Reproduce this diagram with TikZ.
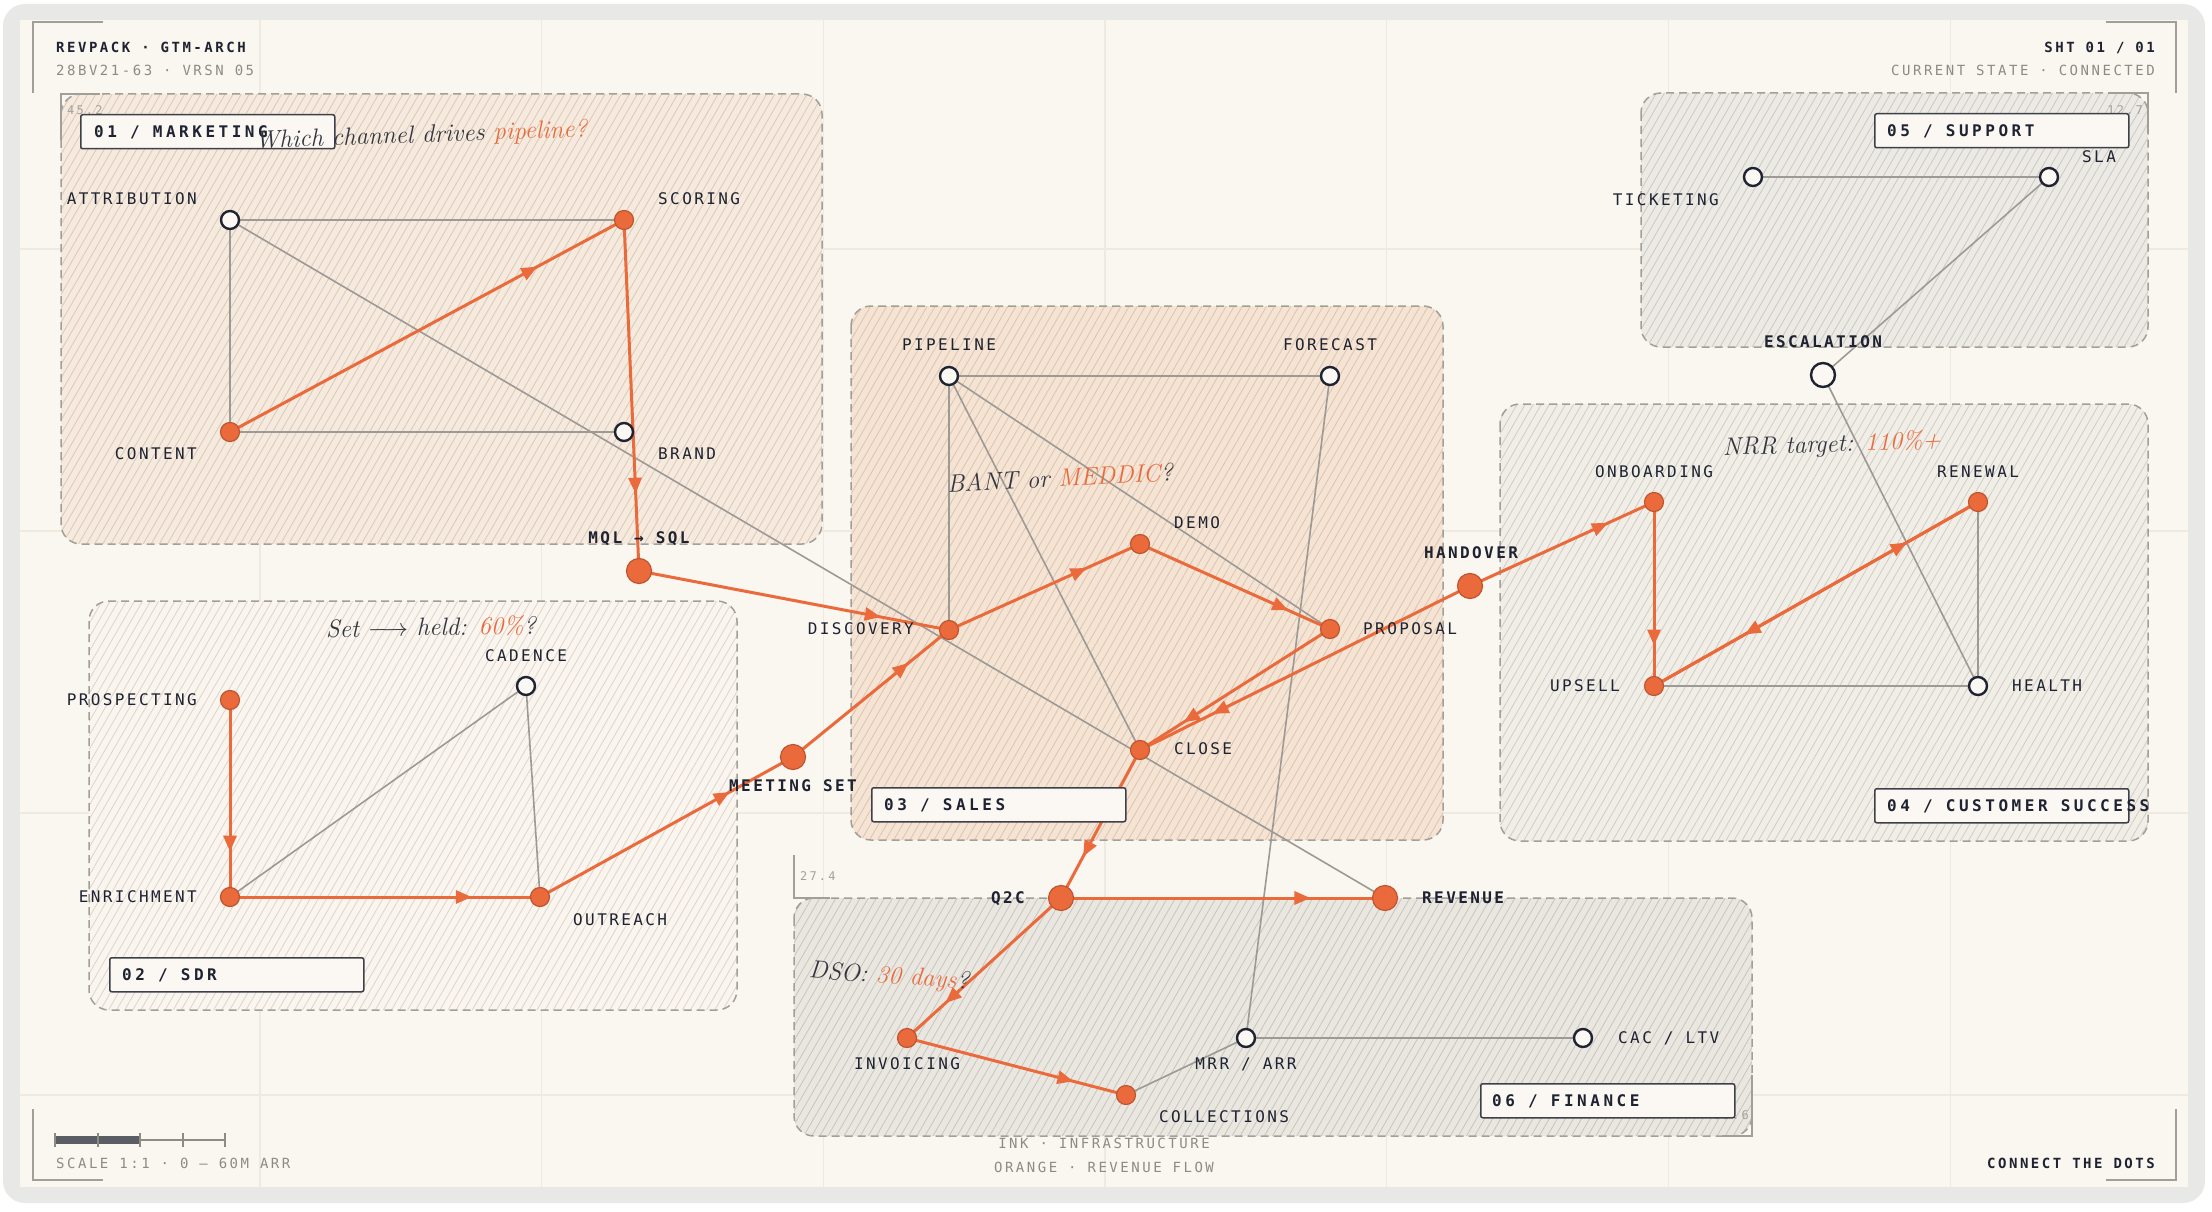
\documentclass[tikz,border=0pt]{standalone}
\usepackage{fontspec}
\usetikzlibrary{patterns.meta,decorations.markings,arrows.meta,positioning}
\newfontfamily\nodefont[LetterSpace=15]{DejaVu Sans Mono}
\newfontfamily\tagfont[LetterSpace=22]{DejaVu Sans Mono}
\newfontfamily\metafont[LetterSpace=18]{DejaVu Sans Mono}
\definecolor{Paper}{HTML}{FAF6F0}
\definecolor{Card}{HTML}{E8E8E7}
\definecolor{Grid}{HTML}{F0E9E0}
\definecolor{Ember}{HTML}{EA6A3C}
\definecolor{EmberDark}{HTML}{BF5530}
\definecolor{Ink}{HTML}{1E2231}
\definecolor{Wire}{HTML}{9D9A96}
\definecolor{TagEdge}{HTML}{3D4049}
\definecolor{TagFill}{HTML}{FBF8F3}
\definecolor{DashGray}{HTML}{A29E98}
\definecolor{Faint}{HTML}{8E8A84}
\definecolor{Pencil}{HTML}{33363F}
\definecolor{ZoneMkt}{HTML}{F5EADD}
\definecolor{HatchMkt}{HTML}{D9C9B8}
\definecolor{ZoneSdr}{HTML}{FAF5EE}
\definecolor{HatchSdr}{HTML}{DDD4CA}
\definecolor{ZoneSales}{HTML}{F5E4D4}
\definecolor{HatchSales}{HTML}{DBC4AF}
\definecolor{ZoneCs}{HTML}{F1EEE7}
\definecolor{HatchCs}{HTML}{D0CCC4}
\definecolor{ZoneSup}{HTML}{ECEAE4}
\definecolor{HatchSup}{HTML}{CBC8C1}
\definecolor{ZoneFin}{HTML}{EAE7E1}
\definecolor{HatchFin}{HTML}{C8C4BD}
\pgfdeclarelayer{backdrop}
\pgfdeclarelayer{wires}
\pgfsetlayers{backdrop,wires,main}
\tikzset{
  dot/.style={circle, inner sep=0pt, minimum size=19pt, fill=Ember, draw=EmberDark, line width=1.2pt},
  hub/.style={dot, minimum size=25pt},
  ring/.style={circle, inner sep=0pt, minimum size=18pt, fill=TagFill, draw=Ink, line width=2.4pt},
  bigring/.style={ring, minimum size=24pt},
  lbl/.style={font=\nodefont\fontsize{16}{16}\selectfont, text=Ink, inner sep=0pt, text height=11.7pt, text depth=0pt},
  keylbl/.style={lbl, font=\nodefont\bfseries\fontsize{16}{16}\selectfont},
  wire/.style={draw=Wire, line width=1.6pt},
  flow/.style={draw=Ember, line width=3pt, postaction={decorate},
    decoration={markings, mark=at position #1 with {\arrow{Triangle[length=16pt,width=13pt]}}}},
  flow/.default=0.78,
  tagbox/.style={draw=TagEdge, fill=TagFill, line width=1.5pt, rounded corners=2pt, minimum width=254pt, minimum height=34pt, inner sep=0pt},
  tagtext/.style={font=\tagfont\bfseries\fontsize{16}{16}\selectfont, text=Ink, inner sep=0pt, text height=11.7pt, text depth=0pt},
  note/.style={font=\rmfamily\itshape\fontsize{25}{25}\selectfont, text=Pencil, inner sep=0pt},
  metatext/.style={font=\metafont\fontsize{14}{14}\selectfont, text=Faint, inner sep=0pt, text height=10pt, text depth=0pt},
  metabold/.style={metatext, font=\metafont\bfseries\fontsize{14}{14}\selectfont, text=Ink},
  cornernum/.style={font=\metafont\fontsize{12}{12}\selectfont, text=Faint!80, inner sep=0pt},
  tickline/.style={draw=DashGray, line width=1.2pt},
  zoneedge/.style={draw=DashGray, line width=1.5pt, dash pattern=on 8pt off 5pt, rounded corners=20pt},
}
\begin{document}
\begin{tikzpicture}[x=1pt,y=-1pt]
  \useasboundingbox (0,0) rectangle (2212,1212);
  \begin{pgfonlayer}{backdrop}
    \fill[white] (0,0) rectangle (2212,1212);
    \fill[Card, rounded corners=22pt] (3,4) rectangle (2205,1203);
    \fill[Paper] (20,20) rectangle (2188,1187);
    % faint grid
    \foreach \gx in {260,541.7,823.4,1105,1386.8,1668.5,1950.2}
      \draw[Grid, line width=1.2pt] (\gx,20) -- (\gx,1187);
    \foreach \gy in {249,531,813,1095}
      \draw[Grid, line width=1.2pt] (20,\gy) -- (2188,\gy);
    % zones
    \foreach \xa/\ya/\xb/\yb/\zc/\hc in {61/94/822/544/ZoneMkt/HatchMkt, 89/601/737/1010/ZoneSdr/HatchSdr,
        851/306/1443/840/ZoneSales/HatchSales, 1500/404/2148/841/ZoneCs/HatchCs,
        1641/93/2148/347/ZoneSup/HatchSup, 794/898/1752/1136/ZoneFin/HatchFin} {
      \fill[fill=\zc, rounded corners=20pt] (\xa,\ya) rectangle (\xb,\yb);
      \fill[pattern={Lines[angle=60,distance=7pt,line width=0.8pt]}, pattern color=\hc, rounded corners=20pt] (\xa,\ya) rectangle (\xb,\yb);
      \draw[zoneedge] (\xa,\ya) rectangle (\xb,\yb);
    }
    % corner marks
    \draw[tickline] (61,140) -- (61,94) -- (100,94);
    \node[cornernum, anchor=west] (num452) at (67,110) {45.2};
    \draw[tickline] (2108,93) -- (2148,93) -- (2148,133);
    \node[cornernum, anchor=east] (num127) at (2143,110) {12.7};
    \draw[tickline] (794,855) -- (794,898) -- (830,898);
    \node[cornernum, anchor=west] (num274) at (800,876) {27.4};
    \draw[tickline] (1752,1075) -- (1752,1136) -- (1722,1136);
    \node[cornernum, anchor=east] (num856) at (1749,1115) {85.6};
  \end{pgfonlayer}

  % frame brackets
  \draw[tickline] (33,93) -- (33,22) -- (103,22);
  \draw[tickline] (2106,22) -- (2176,22) -- (2176,93);
  \draw[tickline] (33,1109) -- (33,1180) -- (103,1180);
  \draw[tickline] (2106,1180) -- (2176,1180) -- (2176,1109);

  % title block
  \node[metabold, anchor=west] (title) at (56,48) {REVPACK · GTM-ARCH};
  \node[metatext, anchor=west] (version) at (56,71) {28BV21-63 · VRSN 05};
  \node[metabold, anchor=east] (sheet) at (2155,48) {SHT 01 / 01};
  \node[metatext, anchor=east] (state) at (2155,71) {CURRENT STATE · CONNECTED};
  \node[metatext, anchor=west] (scale) at (56,1163) {SCALE 1:1 · 0 — 60M ARR};
  \node[metabold, anchor=east] (motto) at (2155,1163) {CONNECT THE DOTS};
  \node[metatext] (legendink) at (1104,1143) {INK · INFRASTRUCTURE};
  \node[metatext] (legendorange) at (1104,1167) {ORANGE · REVENUE FLOW};

  % scale bar
  \draw[Faint, line width=1.2pt] (55,1140) -- (225,1140);
  \fill[TagEdge!85] (55,1136) rectangle (140,1144);
  \foreach \sx in {55,98,140,183,225}
    \draw[Faint, line width=1.2pt] (\sx,1133) -- (\sx,1147);

  % zone tags
  \node[tagbox, anchor=north west] (tagmkt) at (80,114) {};
  \node[tagtext, anchor=west] (tagmkttext) at ([xshift=14pt]tagmkt.west) {01 / MARKETING};
  \node[tagbox, anchor=north west] (tagsdr) at (109,957) {};
  \node[tagtext, anchor=west] (tagsdrtext) at ([xshift=13pt]tagsdr.west) {02 / SDR};
  \node[tagbox, anchor=north west] (tagsales) at (871,787) {};
  \node[tagtext, anchor=west] (tagsalestext) at ([xshift=13pt]tagsales.west) {03 / SALES};
  \node[tagbox, anchor=north west] (tagcs) at (1874,788) {};
  \node[tagtext, anchor=west] (tagcstext) at ([xshift=13pt]tagcs.west) {04 / CUSTOMER SUCCESS};
  \node[tagbox, anchor=north west] (tagsup) at (1874,113) {};
  \node[tagtext, anchor=west] (tagsuptext) at ([xshift=13pt]tagsup.west) {05 / SUPPORT};
  \node[tagbox, anchor=north west] (tagfin) at (1480,1083) {};
  \node[tagtext, anchor=west] (tagfintext) at ([xshift=12pt]tagfin.west) {06 / FINANCE};

  % marketing
  \node[ring] (attribution) at (230,220) {};
  \node[dot] (scoring) at (624,220) {};
  \node[dot] (content) at (230,432) {};
  \node[ring] (brand) at (624,432) {};
  \node[hub] (mql) at (639,571) {};
  \node[lbl, anchor=east] (attributionlbl) at (197,199) {ATTRIBUTION};
  \node[lbl, anchor=west] (scoringlbl) at (658,199) {SCORING};
  \node[lbl, anchor=east] (contentlbl) at (197,454) {CONTENT};
  \node[lbl, anchor=west] (brandlbl) at (658,454) {BRAND};
  \node[keylbl] (mqllbl) at (639,538) {MQL → SQL};

  % sdr
  \node[dot] (prospecting) at (230,700) {};
  \node[ring] (cadence) at (526,686) {};
  \node[dot] (enrichment) at (230,897) {};
  \node[dot] (outreach) at (540,897) {};
  \node[hub] (meeting) at (793,757) {};
  \node[lbl, anchor=east] (prospectinglbl) at (197,700) {PROSPECTING};
  \node[lbl] (cadencelbl) at (526,656) {CADENCE};
  \node[lbl, anchor=east] (enrichmentlbl) at (197,897) {ENRICHMENT};
  \node[lbl, anchor=west] (outreachlbl) at (573,920) {OUTREACH};
  \node[keylbl] (meetinglbl) at (793,786) {MEETING SET};

  % sales
  \node[ring] (pipeline) at (949,376) {};
  \node[ring] (forecast) at (1330,376) {};
  \node[dot] (demo) at (1140,544) {};
  \node[dot] (discovery) at (949,630) {};
  \node[dot] (proposal) at (1330,629) {};
  \node[dot] (close) at (1140,750) {};
  \node[hub] (handover) at (1470,586) {};
  \node[lbl] (pipelinelbl) at (949,345) {PIPELINE};
  \node[lbl] (forecastlbl) at (1330,345) {FORECAST};
  \node[lbl, anchor=west] (demolbl) at (1174,523) {DEMO};
  \node[lbl, anchor=east] (discoverylbl) at (914,629) {DISCOVERY};
  \node[lbl, anchor=west] (proposallbl) at (1363,629) {PROPOSAL};
  \node[lbl, anchor=west] (closelbl) at (1174,749) {CLOSE};
  \node[keylbl] (handoverlbl) at (1471,553) {HANDOVER};

  % support
  \node[ring] (ticketing) at (1753,177) {};
  \node[ring] (sla) at (2049,177) {};
  \node[bigring] (escalation) at (1823,375) {};
  \node[lbl, anchor=east] (ticketinglbl) at (1719,200) {TICKETING};
  \node[lbl, anchor=west] (slalbl) at (2082,157) {SLA};
  \node[keylbl] (escalationlbl) at (1823,342) {ESCALATION};

  % customer success
  \node[dot] (onboarding) at (1654,502) {};
  \node[dot] (renewal) at (1978,502) {};
  \node[dot] (upsell) at (1654,686) {};
  \node[ring] (health) at (1978,686) {};
  \node[lbl] (onboardinglbl) at (1654,472) {ONBOARDING};
  \node[lbl] (renewallbl) at (1978,472) {RENEWAL};
  \node[lbl, anchor=east] (upselllbl) at (1620,686) {UPSELL};
  \node[lbl, anchor=west] (healthlbl) at (2012,686) {HEALTH};

  % finance
  \node[hub] (q2c) at (1061,898) {};
  \node[hub] (revenue) at (1385,898) {};
  \node[dot] (invoicing) at (907,1038) {};
  \node[dot] (collections) at (1126,1095) {};
  \node[ring] (mrr) at (1246,1038) {};
  \node[ring] (cacltv) at (1583,1038) {};
  \node[keylbl, anchor=east] (q2clbl) at (1025,898) {Q2C};
  \node[keylbl, anchor=west] (revenuelbl) at (1422,898) {REVENUE};
  \node[lbl] (invoicinglbl) at (907,1064) {INVOICING};
  \node[lbl] (collectionslbl) at (1224,1117) {COLLECTIONS};
  \node[lbl] (mrrlbl) at (1246,1064) {MRR / ARR};
  \node[lbl, anchor=west] (cacltvlbl) at (1618,1038) {CAC / LTV};

  % pencil notes
  \node[note, rotate=2] (notemkt) at (421,136) {Which channel drives \textcolor{Ember}{pipeline?}};
  \node[note, rotate=1] (notesdr) at (431,627) {Set $\longrightarrow$ held: \textcolor{Ember}{60\%}?};
  \node[note, rotate=3] (notesales) at (1060,478) {BANT or \textcolor{Ember}{MEDDIC}?};
  \node[note, rotate=2] (notecs) at (1832,445) {NRR target: \textcolor{Ember}{110\%+}};
  \node[note, rotate=-4] (notefin) at (889,977) {DSO: \textcolor{Ember}{30 days}?};

  \begin{pgfonlayer}{wires}
    % infrastructure
    \draw[wire] (attribution.center) -- (scoring.center);
    \draw[wire] (attribution.center) -- (content.center);
    \draw[wire] (content.center) -- (brand.center);
    \draw[wire] (attribution.center) -- (revenue.center);
    \draw[wire] (enrichment.center) -- (cadence.center);
    \draw[wire] (cadence.center) -- (outreach.center);
    \draw[wire] (pipeline.center) -- (forecast.center);
    \draw[wire] (pipeline.center) -- (discovery.center);
    \draw[wire] (pipeline.center) -- (close.center);
    \draw[wire] (pipeline.center) -- (proposal.center);
    \draw[wire] (forecast.center) -- (mrr.center);
    \draw[wire] (ticketing.center) -- (sla.center);
    \draw[wire] (sla.center) -- (escalation.center);
    \draw[wire] (escalation.center) -- (health.center);
    \draw[wire] (upsell.center) -- (health.center);
    \draw[wire] (renewal.center) -- (health.center);
    \draw[wire] (collections.center) -- (mrr.center);
    \draw[wire] (mrr.center) -- (cacltv.center);
    % revenue flow
    \draw[flow] (content.center) -- (scoring.center);
    \draw[flow] (scoring.center) -- (mql.center);
    \draw[flow] (mql.center) -- (discovery.center);
    \draw[flow=0.77] (prospecting.center) -- (enrichment.center);
    \draw[flow] (enrichment.center) -- (outreach.center);
    \draw[flow=0.75] (outreach.center) -- (meeting.center);
    \draw[flow=0.74] (meeting.center) -- (discovery.center);
    \draw[flow=0.72] (discovery.center) -- (demo.center);
    \draw[flow] (demo.center) -- (proposal.center);
    \draw[flow=0.77] (proposal.center) -- (close.center);
    \draw[flow] (handover.center) -- (close.center);
    \draw[flow=0.75] (handover.center) -- (onboarding.center);
    \draw[flow] (onboarding.center) -- (upsell.center);
    \draw[flow] (upsell.center) -- (renewal.center);
    \draw[flow=0.72] (renewal.center) -- (upsell.center);
    \draw[flow=0.72] (close.center) -- (q2c.center);
    \draw[flow=0.77] (q2c.center) -- (revenue.center);
    \draw[flow=0.75] (q2c.center) -- (invoicing.center);
    \draw[flow=0.76] (invoicing.center) -- (collections.center);
  \end{pgfonlayer}
\end{tikzpicture}
\end{document}
